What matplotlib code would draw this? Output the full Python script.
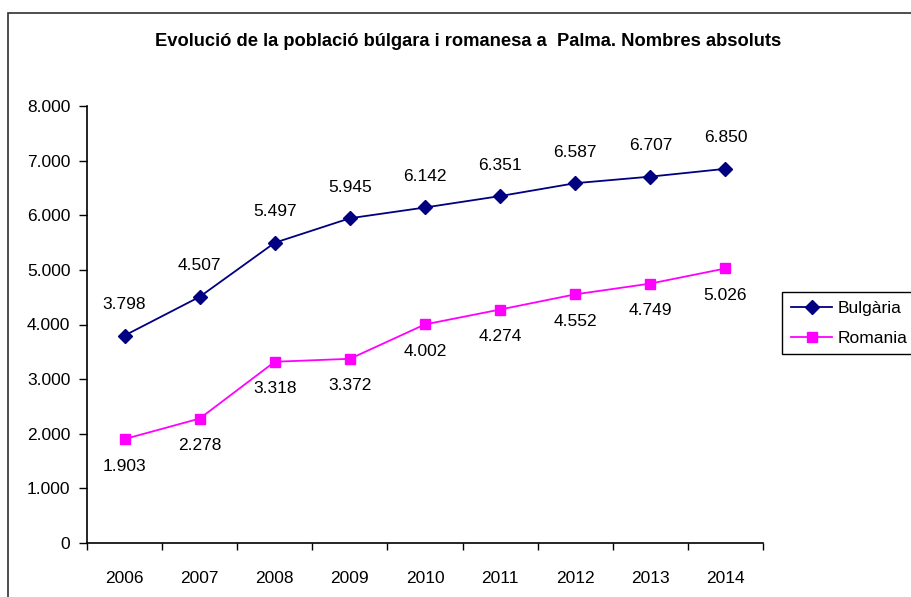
import matplotlib.pyplot as plt
import matplotlib.patches as patches
from matplotlib.ticker import FuncFormatter, FixedLocator

plt.rcParams['font.family'] = ['Liberation Sans', 'DejaVu Sans']

# data
years = ['2006', '2007', '2008', '2009', '2010', '2011', '2012', '2013', '2014']
bulgaria = [3798, 4507, 5497, 5945, 6142, 6351, 6587, 6707, 6850]
romania = [1903, 2278, 3318, 3372, 4002, 4274, 4552, 4749, 5026]


def fmt_thousands(v):
    # 4507 -> "4.507"
    return f"{int(round(v)):,}".replace(",", ".")


fig = plt.figure(figsize=(9.11, 5.97), dpi=100)
ax = fig.add_axes([87 / 911, 1 - 543 / 597, 676 / 911, 437 / 597])

x = list(range(len(years)))
ax.plot(x, bulgaria, color='#000080', lw=1.3, marker='D', ms=7,
        label='Bulgària', clip_on=False)
ax.plot(x, romania, color='#FF00FF', lw=1.3, marker='s', ms=6.7,
        label='Romania', clip_on=False)

# value labels
for xi, v in zip(x, bulgaria):
    ax.annotate(fmt_thousands(v), (xi, v), xytext=(0, 31),
                textcoords='offset pixels', ha='center', va='center',
                fontsize=12.5)
for xi, v in zip(x, romania):
    ax.annotate(fmt_thousands(v), (xi, v), xytext=(0, -27),
                textcoords='offset pixels', ha='center', va='center',
                fontsize=12.5)

ax.set_xlim(-0.5, len(years) - 0.5)
ax.set_ylim(0, 8000)
ax.set_yticks(range(0, 8001, 1000))
ax.yaxis.set_major_formatter(FuncFormatter(lambda v, p: fmt_thousands(v)))
ax.set_xticks(x)
ax.set_xticklabels(years)
ax.xaxis.set_minor_locator(FixedLocator([i - 0.5 for i in range(len(years) + 1)]))
ax.tick_params(axis='x', which='major', length=0, pad=20, labelsize=12.5)
ax.tick_params(axis='x', which='minor', length=5, width=1, direction='out')
ax.tick_params(axis='y', length=6, width=1, pad=6, labelsize=12.5)

for s in ['top', 'right']:
    ax.spines[s].set_visible(False)
for s in ['left', 'bottom']:
    ax.spines[s].set_linewidth(1.2)

fig.text(468 / 911, 1 - 42 / 597,
         'Evolució de la població búlgara i romanesa a  Palma. Nombres absoluts',
         ha='center', va='center', fontsize=13.2, fontweight='bold')

leg = fig.legend(loc='upper left', bbox_to_anchor=(782 / 911, 1 - 292 / 597),
                 fontsize=12.5, frameon=True, fancybox=False, edgecolor='black',
                 framealpha=1, handlelength=2.4, borderpad=0.5,
                 labelspacing=0.85, handletextpad=0.3, borderaxespad=0)
leg.get_frame().set_linewidth(1.0)

# outer chart-area border (cropped on right and bottom)
fig.patches.append(patches.Rectangle((8 / 911, -0.05), 1.1, 1 - 13 / 597 + 0.05,
                                     transform=fig.transFigure, fill=False,
                                     edgecolor='#303030', lw=1.2))

fig.savefig('out.png', dpi=100)
